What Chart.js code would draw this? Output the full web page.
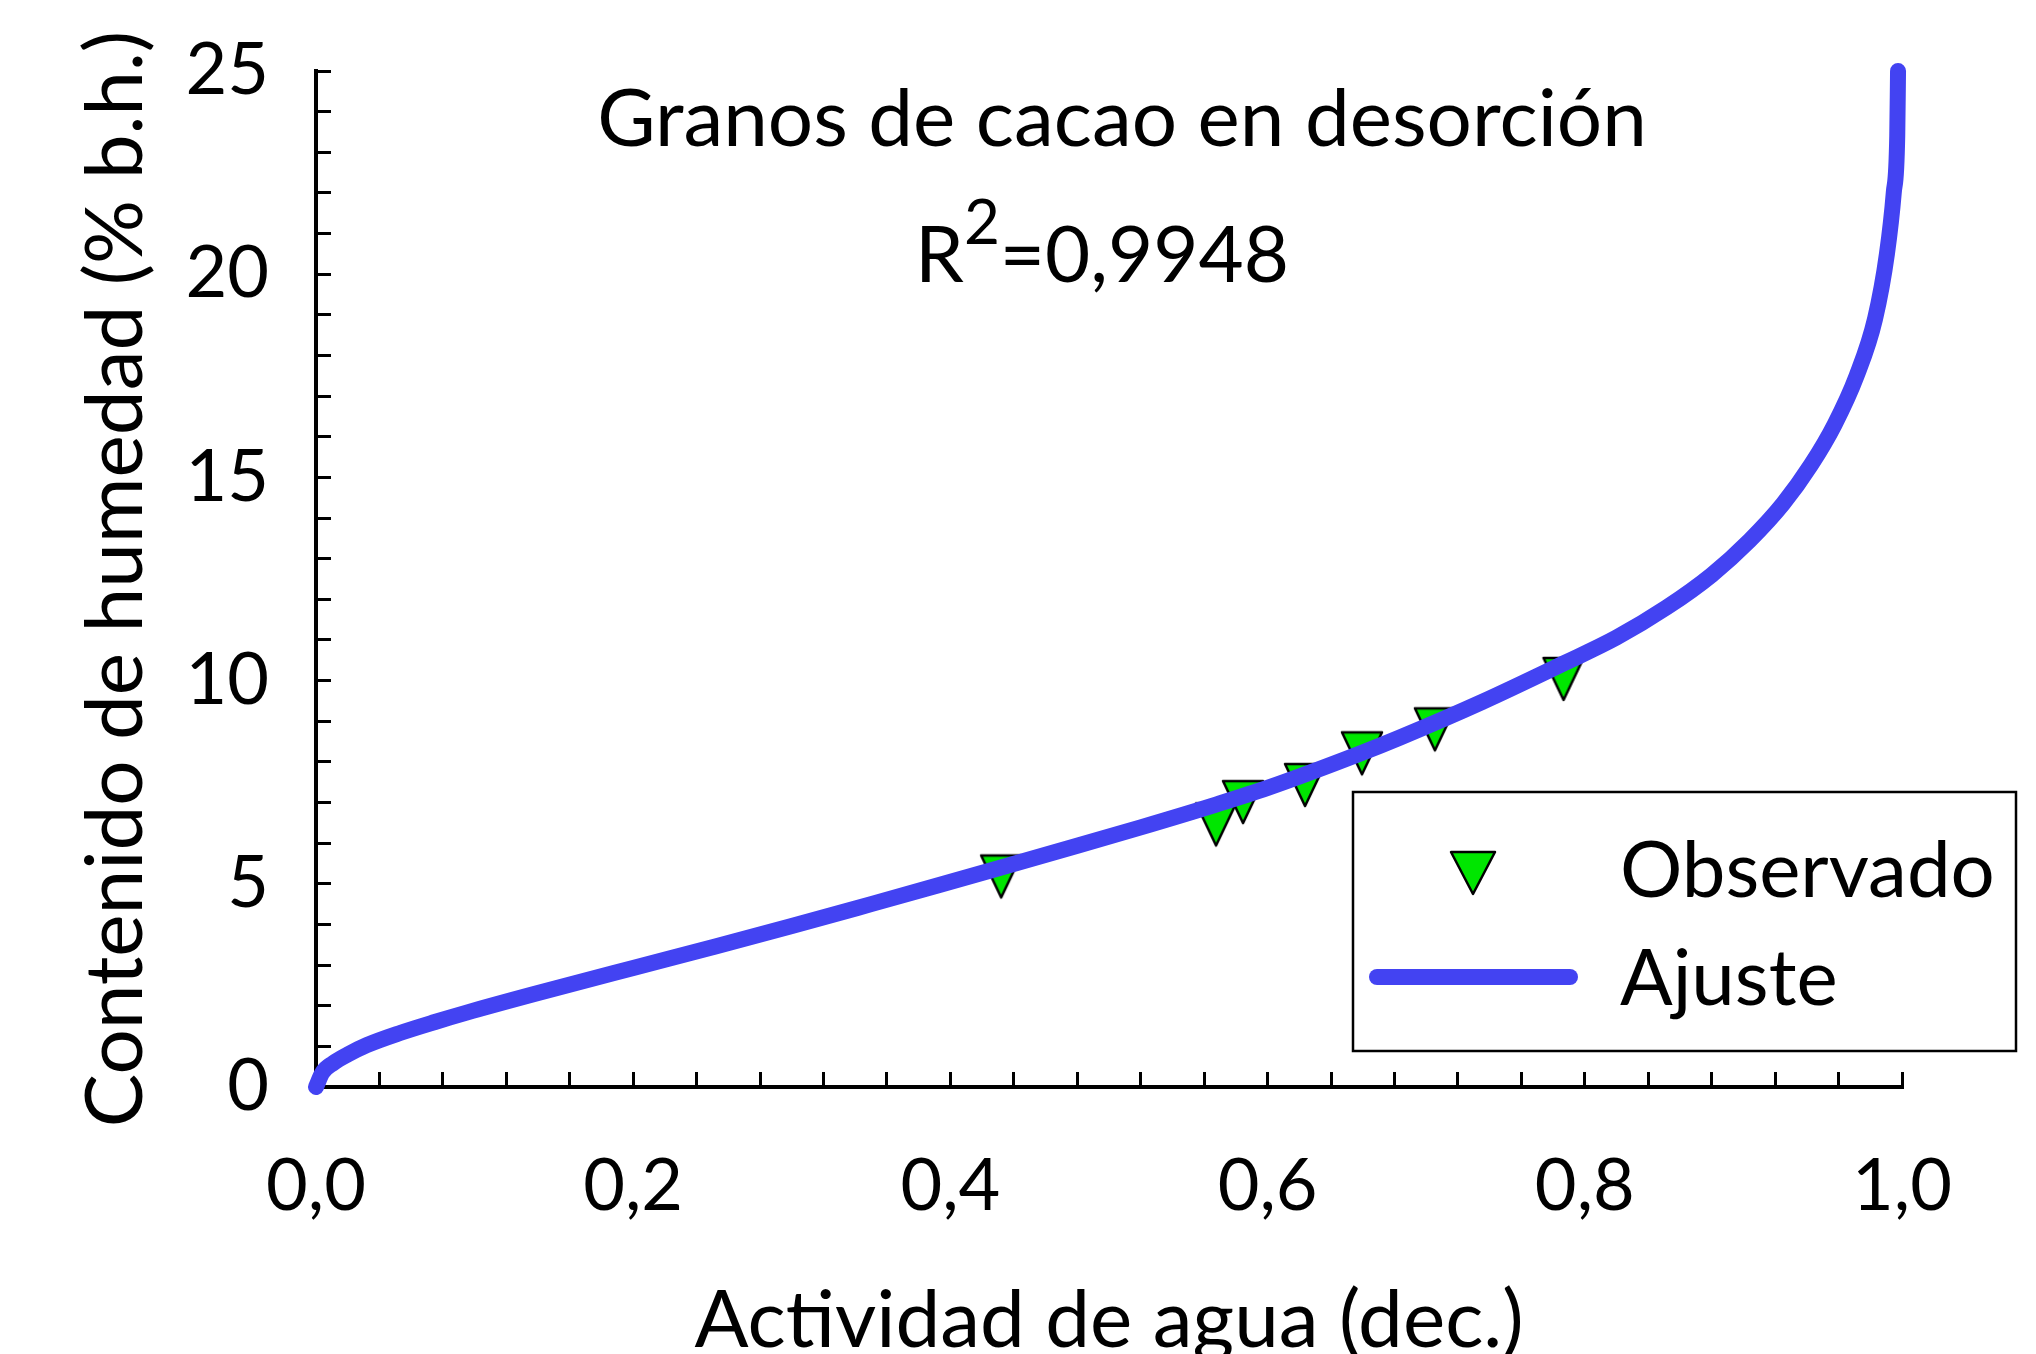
<!DOCTYPE html>
<html lang="es">
<head>
    <meta charset="UTF-8">
    <title>Granos de cacao en desorción</title>
    <script src="https://cdn.jsdelivr.net/npm/chart.js"></script>
    <style>
        body { margin: 0; background: #fff; }
        canvas { display: block; }
    </style>
</head>
<body>
    <canvas id="isoChart" width="2036" height="1354"></canvas>

    <script>
        // Observed points (water activity, moisture % w.b.)
        const obsAw = [0.432, 0.5675, 0.5845, 0.6236, 0.6595, 0.7055, 0.7866];
        const obsMoisture = [5.18, 6.46, 7.01, 7.43, 8.21, 8.80, 10.04];

        // Fitted curve
        const fitAw = [0, 0.004, 0.011, 0.02, 0.032, 0.053, 0.075, 0.095, 0.137, 0.2, 0.25, 0.3,
            0.35, 0.393, 0.432, 0.475, 0.52, 0.5675, 0.6, 0.658, 0.6835, 0.735, 0.7865, 0.82,
            0.8516, 0.88, 0.904, 0.925, 0.9425, 0.9575, 0.9714, 0.983, 0.9905, 0.9948, 0.997, 0.9975];
        const fitMoisture = [0, 0.35, 0.59, 0.8, 1.03, 1.33, 1.6, 1.83, 2.28, 2.93, 3.44, 3.96,
            4.5, 4.97, 5.4, 5.88, 6.39, 6.95, 7.36, 8.2, 8.6, 9.47, 10.42, 11.06,
            11.8, 12.6, 13.45, 14.35, 15.3, 16.3, 17.5, 18.9, 20.5, 22.0, 23.4, 25.0];

        const xTickLabels = ['0,0', '0,2', '0,4', '0,6', '0,8', '1,0'];
        const yTickLabels = ['0', '5', '10', '15', '20', '25'];

        const titleText = 'Granos de cacao en desorción';
        const r2Text = '=0,9948';
        const legendLabels = ['Observado', 'Ajuste'];

        const fitColor = '#4343f2';
        const markerColor = '#00e600';
        const FONT = 'Lato';

        // downward triangle used as the point style
        function makeTriangle(w, h) {
            const c = document.createElement('canvas');
            c.width = w + 6;
            c.height = h + 6;
            const g = c.getContext('2d');
            g.beginPath();
            g.moveTo(3, 3);
            g.lineTo(w + 3, 3);
            g.lineTo(w / 2 + 3, h + 3);
            g.closePath();
            g.fillStyle = markerColor;
            g.fill();
            g.lineWidth = 2.5;
            g.lineJoin = 'round';
            g.strokeStyle = '#000';
            g.stroke();
            return c;
        }

        const textPlugin = {
            id: 'textAndLegend',
            afterDraw(chart) {
                const ctx = chart.ctx;
                ctx.save();
                ctx.fillStyle = '#000';
                ctx.textBaseline = 'alphabetic';

                // title lines inside the plot
                ctx.font = `80px ${FONT}`;
                ctx.textAlign = 'center';
                ctx.fillText(titleText, 1122, 146);

                ctx.font = `78px ${FONT}`;
                const rW = ctx.measureText('R').width;
                const restW = ctx.measureText(r2Text).width;
                ctx.font = `62px ${FONT}`;
                const supW = ctx.measureText('2').width;
                let x = 1102 - (rW + supW + restW) / 2;
                ctx.textAlign = 'left';
                ctx.font = `78px ${FONT}`;
                ctx.fillText('R', x, 282);
                x += rW;
                ctx.font = `62px ${FONT}`;
                ctx.fillText('2', x, 244);
                x += supW;
                ctx.font = `78px ${FONT}`;
                ctx.fillText(r2Text, x, 282);

                // legend box
                ctx.fillStyle = '#fff';
                ctx.fillRect(1353, 792, 663, 259);
                ctx.lineWidth = 2.5;
                ctx.strokeStyle = '#000';
                ctx.strokeRect(1353, 792, 663, 259);

                ctx.drawImage(legendMarker, 1473 - legendMarker.width / 2, 873 - legendMarker.height / 2);

                ctx.beginPath();
                ctx.moveTo(1377, 977);
                ctx.lineTo(1570, 977);
                ctx.lineWidth = 16;
                ctx.lineCap = 'round';
                ctx.strokeStyle = fitColor;
                ctx.stroke();

                ctx.fillStyle = '#000';
                ctx.font = `78px ${FONT}`;
                ctx.fillText(legendLabels[0], 1620, 897);
                ctx.fillText(legendLabels[1], 1620, 1005);
                ctx.restore();
            }
        };

        const pointMarker = makeTriangle(40, 42);
        const legendMarker = makeTriangle(44, 42);

        const ctx = document.getElementById('isoChart').getContext('2d');
        new Chart(ctx, {
            type: 'scatter',
            data: {
                datasets: [{
                    label: legendLabels[0],
                    data: obsAw.map((v, i) => ({ x: v, y: obsMoisture[i] })),
                    pointStyle: pointMarker,
                    pointRadius: 22,
                    order: 2
                }, {
                    type: 'line',
                    label: legendLabels[1],
                    data: fitAw.map((v, i) => ({ x: v, y: fitMoisture[i] })),
                    borderColor: fitColor,
                    borderWidth: 16,
                    borderCapStyle: 'round',
                    borderJoinStyle: 'round',
                    cubicInterpolationMode: 'monotone',
                    pointRadius: 0,
                    fill: false,
                    clip: false,
                    order: 1
                }]
            },
            options: {
                responsive: false,
                animation: false,
                layout: { padding: { left: 0, right: 134, top: 71, bottom: 0 } },
                plugins: {
                    legend: { display: false },
                    tooltip: { enabled: false }
                },
                scales: {
                    x: {
                        type: 'linear',
                        min: 0,
                        max: 1,
                        afterFit(scale) {
                            scale.height = 267;
                        },
                        border: { color: '#000', width: 4 },
                        grid: {
                            drawOnChartArea: false,
                            tickLength: -15,
                            tickWidth: 3,
                            tickColor: '#000'
                        },
                        ticks: {
                            stepSize: 0.04,
                            autoSkip: false,
                            maxRotation: 0,
                            minRotation: 0,
                            padding: 72,
                            color: '#000',
                            font: { family: FONT, size: 72 },
                            callback(v) {
                                const k = Math.round(v * 100);
                                return k % 20 === 0 ? xTickLabels[k / 20] : '';
                            }
                        },
                        title: {
                            display: true,
                            text: 'Actividad de agua (dec.)',
                            color: '#000',
                            font: { family: FONT, size: 80 },
                            padding: { top: 0, bottom: -15 }
                        }
                    },
                    y: {
                        min: 0,
                        max: 25,
                        afterFit(scale) {
                            scale.width = 316;
                            // keep the top label from pushing the plot down
                            scale.paddingTop = 0;
                            scale.paddingBottom = 0;
                        },
                        border: { color: '#000', width: 4 },
                        grid: {
                            drawOnChartArea: false,
                            tickLength: -15,
                            tickWidth: 3,
                            tickColor: '#000'
                        },
                        ticks: {
                            stepSize: 1,
                            autoSkip: false,
                            padding: 62,
                            color: '#000',
                            font: { family: FONT, size: 72 },
                            callback(v) {
                                const k = Math.round(v);
                                return k % 5 === 0 ? yTickLabels[k / 5] : '';
                            }
                        },
                        title: {
                            display: true,
                            text: 'Contenido de humedad (% b.h.)',
                            color: '#000',
                            font: { family: FONT, size: 80 },
                            padding: { top: 68, bottom: 0 }
                        }
                    }
                }
            },
            plugins: [textPlugin]
        });
    </script>
</body>
</html>
